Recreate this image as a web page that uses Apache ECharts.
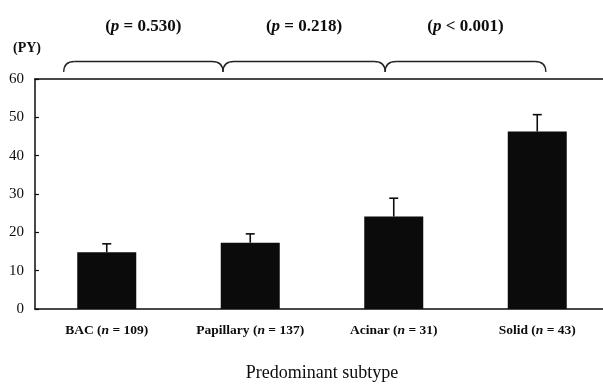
<!DOCTYPE html>
<html>
<head>
<meta charset="utf-8">
<script src="https://cdn.jsdelivr.net/npm/echarts@6/dist/echarts.min.js"></script>
<style>
  html, body { margin: 0; padding: 0; background: #fff; }
  #chart { width: 603px; height: 385px; }
</style>
</head>
<body>
<div id="chart"></div>
<script>
// Smoking exposure (pack-years) by predominant histologic subtype
const categories = ['BAC', 'Papillary', 'Acinar', 'Solid'];
const caseCounts = [109, 137, 31, 43];
const meanPY = [14.8, 17.3, 24.1, 46.3];
const errorUpper = [17.0, 19.6, 28.9, 50.7];
const yTicks = { min: 0, max: 60, interval: 10 };

// Pairwise comparisons between adjacent subtypes
const pValueLabels = [['=', '0.530'], ['=', '0.218'], ['<', '0.001']];
// Bracket edges expressed in category units (0 = first category centre)
const bracketEdges = [-0.3, 0.81, 1.94, 3.06];

const serif = '"Liberation Serif", "Times New Roman", serif';
const ink = '#0d0d0d';

const chart = echarts.init(document.getElementById('chart'), null, { renderer: 'canvas' });

chart.setOption({
  animation: false,
  backgroundColor: '#fff',
  title: {
    text: '(PY)',
    left: 8,
    top: 36,
    textStyle: { fontFamily: serif, fontSize: 14, fontWeight: 'bold', color: ink }
  },
  grid: { left: 35, top: 79, width: 574, bottom: 76, containLabel: false, outerBoundsMode: 'none' },
  xAxis: [{
    type: 'category',
    data: categories,
    axisLine: { lineStyle: { color: ink, width: 1.5 } },
    axisTick: { show: false },
    axisLabel: {
      interval: 0,
      margin: 15,
      formatter: function (value, idx) {
        return '{b|' + value + ' (}{i|n}{b| = ' + caseCounts[idx] + ')}';
      },
      rich: {
        b: { fontFamily: serif, fontSize: 13.5, fontWeight: 'bold', color: ink },
        i: { fontFamily: serif, fontSize: 13.5, fontWeight: 'bold', fontStyle: 'italic', color: ink }
      }
    },
    name: 'Predominant subtype',
    nameLocation: 'middle',
    nameGap: 55,
    nameTextStyle: { fontFamily: serif, fontSize: 18, color: ink }
  }, {
    type: 'category',
    position: 'top',
    data: categories,
    axisLine: { lineStyle: { color: ink, width: 1.5 } },
    axisTick: { show: false },
    axisLabel: { show: false }
  }],
  yAxis: {
    type: 'value',
    min: yTicks.min,
    max: yTicks.max,
    interval: yTicks.interval,
    axisLine: { show: true, lineStyle: { color: ink, width: 1.5 } },
    axisTick: { show: true, inside: true, length: 4, lineStyle: { color: ink, width: 1.2 } },
    splitLine: { show: false },
    axisLabel: { margin: 11, fontFamily: serif, fontSize: 15, color: ink }
  },
  series: [{
    type: 'bar',
    data: meanPY,
    barWidth: 59,
    itemStyle: { color: '#0b0b0b' },
    z: 2
  }, {
    type: 'custom',
    data: meanPY.map(function (m, i) { return [i, m, errorUpper[i]]; }),
    z: 3,
    renderItem: function (params, api) {
      const base = api.coord([api.value(0), api.value(1)]);
      const top = api.coord([api.value(0), api.value(2)]);
      const style = { stroke: ink, lineWidth: 1.6 };
      return {
        type: 'group',
        children: [
          { type: 'line', shape: { x1: base[0], y1: base[1], x2: top[0], y2: top[1] }, style: style },
          { type: 'line', shape: { x1: top[0] - 4.5, y1: top[1], x2: top[0] + 4.5, y2: top[1] }, style: style }
        ]
      };
    }
  }]
});

// Comparison brackets and p-values above the plot
function drawBrackets() {
  const c0 = chart.convertToPixel({ xAxisIndex: 0 }, categories[0]);
  const c1 = chart.convertToPixel({ xAxisIndex: 0 }, categories[1]);
  const step = c1 - c0;
  const topY = chart.convertToPixel({ yAxisIndex: 0 }, yTicks.max);
  const barY = topY - 17.5;
  const endY = topY - 7;
  const textY = topY - 52;
  const r = 11;
  const stroke = { stroke: '#222', lineWidth: 1.3, fill: null };
  const elements = [];
  for (let k = 0; k < pValueLabels.length; k++) {
    const xa = c0 + bracketEdges[k] * step;
    const xb = c0 + bracketEdges[k + 1] * step;
    elements.push({
      type: 'group',
      children: [
        { type: 'bezierCurve', shape: { x1: xa, y1: endY, cpx1: xa, cpy1: barY, x2: xa + r, y2: barY }, style: stroke },
        { type: 'line', shape: { x1: xa + r, y1: barY, x2: xb - r, y2: barY }, style: stroke },
        { type: 'bezierCurve', shape: { x1: xb - r, y1: barY, cpx1: xb, cpy1: barY, x2: xb, y2: endY }, style: stroke }
      ]
    });
    elements.push({
      type: 'text',
      x: (xa + xb) / 2,
      y: textY,
      style: {
        text: '{t|(}{i|p}{t| ' + pValueLabels[k][0] + ' ' + pValueLabels[k][1] + ')}',
        align: 'center',
        verticalAlign: 'middle',
        rich: {
          t: { fontFamily: serif, fontSize: 17, fontWeight: 'bold', fill: ink },
          i: { fontFamily: serif, fontSize: 17, fontWeight: 'bold', fontStyle: 'italic', fill: ink }
        }
      }
    });
  }
  chart.setOption({ graphic: { elements: elements } });
}
drawBrackets();
</script>
</body>
</html>
